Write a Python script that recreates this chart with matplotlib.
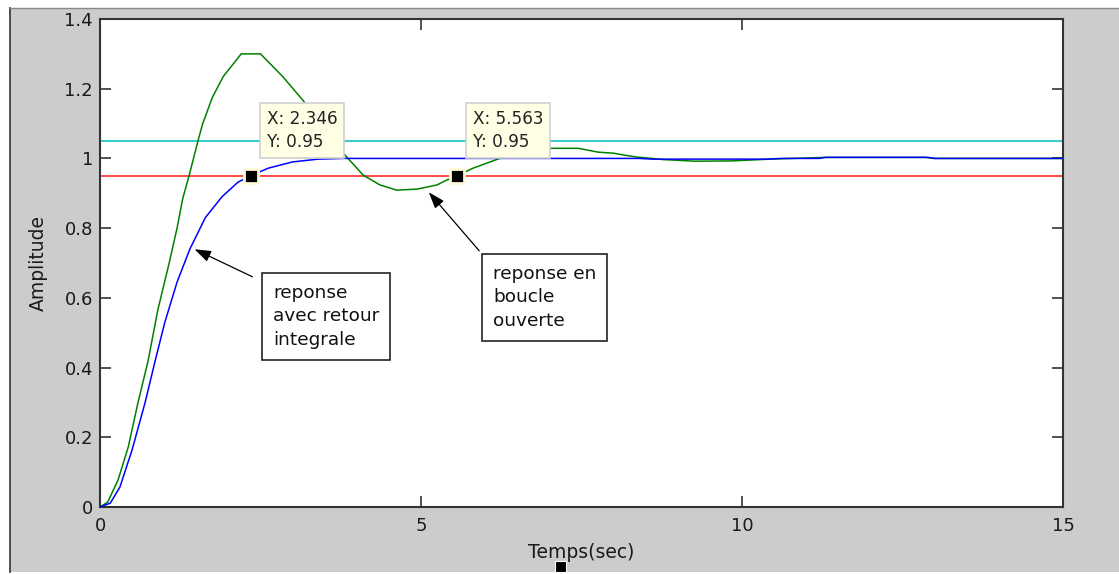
import matplotlib
matplotlib.use("Agg")
import matplotlib.pyplot as plt
from matplotlib.patches import Rectangle

# ---- data ----
t_open = [0, 0.12, 0.28, 0.44, 0.59, 0.75, 0.90, 1.07, 1.20, 1.29, 1.39, 1.53, 1.60,
          1.75, 1.92, 2.20, 2.50, 2.85, 3.16, 3.79, 4.10, 4.36, 4.62, 4.94, 5.25, 5.40, 5.563,
          5.81, 6.30, 7.00, 7.45, 7.76, 8.00, 8.15, 8.36, 8.60, 8.75, 9.27, 9.86, 10.44,
          11.30, 12.85, 13.0, 15.0]
y_open = [0, 0.014, 0.077, 0.172, 0.298, 0.42, 0.565, 0.694, 0.80, 0.886, 0.952, 1.053, 1.10,
          1.175, 1.235, 1.30, 1.30, 1.234, 1.167, 1.015, 0.952, 0.924, 0.909, 0.912, 0.924, 0.938, 0.95,
          0.972, 1.005, 1.029, 1.029, 1.018, 1.015, 1.010, 1.004, 1.000, 0.997, 0.992, 0.993, 0.998,
          1.003, 1.003, 1.000, 1.000]

t_int = [0, 0.16, 0.31, 0.50, 0.70, 0.86, 1.01, 1.20, 1.40, 1.64, 1.90, 2.15, 2.346,
         2.62, 3.00, 3.40, 3.80, 8.40, 8.60, 10.40, 10.60, 11.20, 11.30, 12.90, 13.0, 15.0]
y_int = [0, 0.011, 0.057, 0.164, 0.298, 0.42, 0.53, 0.645, 0.74, 0.83, 0.89, 0.932, 0.95,
         0.972, 0.990, 0.998, 1.000, 1.000, 0.998, 0.998, 1.000, 1.000, 1.003, 1.003, 1.000, 1.000]

upper_band = 1.05
lower_band = 0.95

tips = [(2.346, 0.95), (5.563, 0.95)]
tip_labels = ["X: 2.346\nY: 0.95", "X: 5.563\nY: 0.95"]

xticks = [0, 5, 10, 15]
yticks = [0, 0.2, 0.4, 0.6, 0.8, 1.0, 1.2, 1.4]
yticklabels = ["0", "0.2", "0.4", "0.6", "0.8", "1", "1.2", "1.4"]

note_int = "reponse\navec retour\nintegrale"
note_open = "reponse en\nboucle\nouverte"

# ---- figure ----
W, H = 1119, 574
plt.rcParams['font.family'] = ['DejaVu Sans']
fig = plt.figure(figsize=(W / 100, H / 100), dpi=100, facecolor='white')

# gray panel (behind axes)
fig.patches.append(Rectangle((10 / W, 1 - 572 / H), (W - 10) / W, (572 - 8) / H,
                             transform=fig.transFigure, facecolor='#cccccc',
                             edgecolor='none', zorder=-10))
fig.lines.append(plt.Line2D([10 / W, 10 / W], [1 - 572 / H, 1 - 8 / H],
                            transform=fig.transFigure, color='#333333', lw=1.2, zorder=-9))
fig.lines.append(plt.Line2D([10 / W, 1], [1 - 8 / H, 1 - 8 / H],
                            transform=fig.transFigure, color='#888888', lw=1.0, zorder=-9))

ax = fig.add_axes([100 / W, 1 - 507 / H, (1063 - 100) / W, (507 - 19) / H])
ax.set_zorder(1)
ax.set_facecolor('white')

ax.plot(t_open, y_open, color='#008000', lw=1.1, zorder=3)
ax.plot(t_int, y_int, color='#0000ff', lw=1.1, zorder=3)
ax.axhline(upper_band, color='#20c8c8', lw=1.3, zorder=2)
ax.axhline(lower_band, color='#ff3b3b', lw=1.3, zorder=2)

ax.set_xlim(0, 15)
ax.set_ylim(0, 1.4)
ax.set_xticks(xticks)
ax.set_yticks(yticks)
ax.set_yticklabels(yticklabels)
ax.tick_params(direction='in', length=8, width=1.2, color='#333333',
               top=True, right=True, labelsize=13, labelcolor='#1a1a1a')
ax.tick_params(axis='x', pad=7)
ax.tick_params(axis='y', pad=5)
for s in ax.spines.values():
    s.set_color('#333333')
    s.set_linewidth(1.5)

ax.set_xlabel("Temps(sec)", fontsize=13.5, color='#1a1a1a', labelpad=6)
ax.set_ylabel("Amplitude", fontsize=13.5, color='#1a1a1a', labelpad=12)

# data tips
for (tx, ty), lab in zip(tips, tip_labels):
    ax.plot([tx], [ty], marker='s', ms=10.5, color='black', mec='#fffbd6', mew=2, zorder=6)
    ax.annotate(lab, xy=(tx, ty), xytext=(11.5, 32.5), textcoords='offset points',
                fontsize=12.2, color='#222222', ha='left', va='center', zorder=7,
                linespacing=1.35,
                bbox=dict(boxstyle='square,pad=0.4', fc='#ffffe6', ec='#d0d0d0', lw=1.2))

# text annotations with arrows
ax.annotate("", xy=(1.433, 0.743), xytext=(2.414, 0.657),
            arrowprops=dict(arrowstyle='-|>,head_length=1.0,head_width=0.35',
                            color='black', lw=0.9), zorder=5)
ax.text(2.695, 0.640, note_int, fontsize=13.3, color='#111111', ha='left', va='top',
        linespacing=1.38, zorder=6,
        bbox=dict(boxstyle='square,pad=0.6', fc='white', ec='#222222', lw=1.2))

ax.annotate("", xy=(5.093, 0.909), xytext=(5.935, 0.729),
            arrowprops=dict(arrowstyle='-|>,head_length=1.0,head_width=0.35',
                            color='black', lw=0.9), zorder=5)
ax.text(6.12, 0.694, note_open, fontsize=13.3, color='#111111', ha='left', va='top',
        linespacing=1.38, zorder=6,
        bbox=dict(boxstyle='square,pad=0.6', fc='white', ec='#222222', lw=1.2))

# cursor artifact near the x label
fig.patches.append(Rectangle((555 / W, 1 - 572 / H), 11 / W, 11 / H,
                             transform=fig.transFigure, facecolor='black',
                             edgecolor='white', lw=0.8, zorder=10))

fig.savefig("out.png", dpi=100, facecolor='white')
